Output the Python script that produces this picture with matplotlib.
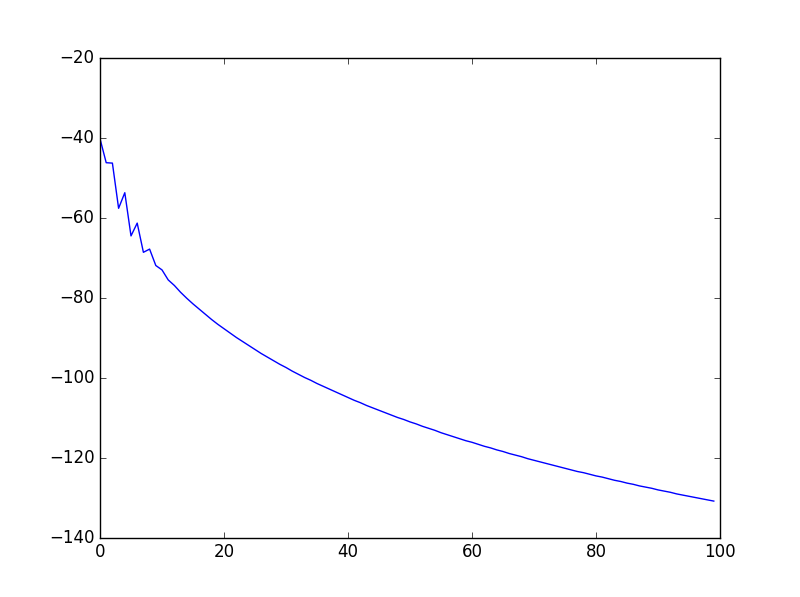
import matplotlib
matplotlib.use('Agg')
import matplotlib.pyplot as plt

# Values (x = 0..99)
head = [-40.2, -46.2, -46.3, -57.6, -53.7, -64.5, -61.3, -68.6, -67.8, -71.9,
        -73.0, -75.5, -76.9, -78.6]
tail = [-80.1, -81.5, -82.8, -84.1, -85.4, -86.6, -87.7, -88.8, -89.9, -90.9,
        -91.9, -92.9, -93.9, -94.8, -95.7, -96.6, -97.4, -98.3, -99.1, -99.9,
        -100.6, -101.4, -102.1, -102.8, -103.5, -104.2, -104.9, -105.6, -106.2, -106.9,
        -107.5, -108.1, -108.7, -109.3, -109.9, -110.4, -111.0, -111.5, -112.1, -112.6,
        -113.1, -113.7, -114.2, -114.7, -115.2, -115.7, -116.1, -116.6, -117.1, -117.5,
        -118.0, -118.4, -118.9, -119.3, -119.7, -120.2, -120.6, -121.0, -121.4, -121.8,
        -122.2, -122.6, -123.0, -123.4, -123.7, -124.1, -124.5, -124.8, -125.2, -125.6,
        -125.9, -126.3, -126.6, -127.0, -127.3, -127.6, -128.0, -128.3, -128.6, -129.0,
        -129.3, -129.6, -129.9, -130.2, -130.5, -130.8]
values = head + tail
steps = list(range(len(values)))

plt.style.use('classic')
fig = plt.figure(figsize=(8, 5.97))
ax = fig.add_axes([0.125, 0.099, 0.775, 0.804])
ax.plot(steps, values, color='b', linewidth=1)
ax.set_xlim(0, 100)
ax.set_ylim(-140, -20)
fig.savefig('out.png', dpi=100, facecolor='white')
